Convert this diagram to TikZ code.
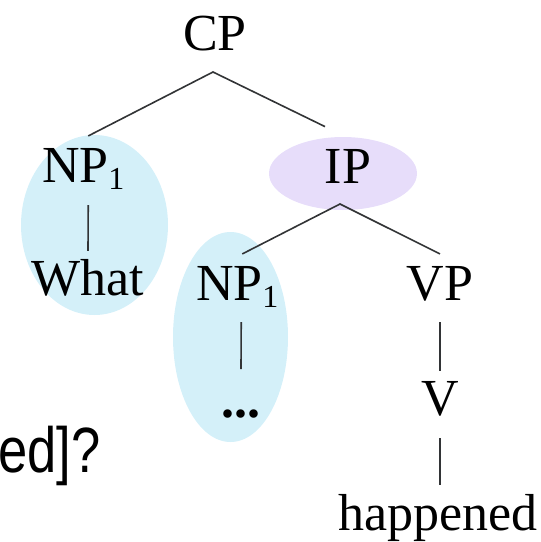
\documentclass[tikz,border=0pt]{standalone}
\usepackage{fontspec}
\setmainfont{Liberation Serif}
\newfontfamily\qsans{Liberation Sans}
\usetikzlibrary{shapes.geometric,calc}
\definecolor{hlblue}{RGB}{212,240,249}
\definecolor{hlpurple}{RGB}{231,221,250}
\definecolor{edgegray}{RGB}{50,52,54}
\newcommand{\subone}{\raisebox{-3.5pt}{\fontsize{16}{16}\selectfont 1}}
\tikzset{
  lbl/.style={inner sep=0pt, outer sep=0pt, font=\fontsize{26}{30}\selectfont},
  blob/.style={ellipse, draw=none, inner sep=0pt},
  edge/.style={draw=edgegray, line width=0.8pt},
}
\begin{document}
\begin{tikzpicture}[x=0.5pt,y=-0.5pt]
\useasboundingbox (0,0) rectangle (541,542);
\clip (0,0) rectangle (541,542);
% highlight ellipses (sizes in pt = half the pixel size)
\node[blob, fill=hlblue, minimum width=73.5pt, minimum height=90pt] (ella) at (94.5,225) {};
\node[blob, fill=hlblue, minimum width=57.5pt, minimum height=105pt] (ellb) at (230.5,337) {};
\node[blob, fill=hlpurple, minimum width=74pt, minimum height=36.5pt] (ellc) at (343,173.5) {};
% labels
\node[lbl, anchor=base] (cp) at (215,50) {CP};
\node[lbl, anchor=base west] (npa) at (42,182) {NP\subone};
\node[lbl, anchor=base] (what) at (88,295) {What};
\node[lbl, anchor=base] (ip) at (348,183) {IP};
\node[lbl, anchor=base west] (npb) at (196,300) {NP\subone};
\node[lbl, anchor=base] (dots) at (241,417) {\bfseries ...};
\node[lbl, anchor=base] (vp) at (440,300) {VP};
\node[lbl, anchor=base] (v) at (440,415) {V};
\node[lbl, anchor=base] (hap) at (438,530) {happened};
% side text
\node[inner sep=0pt, anchor=base east, font=\qsans\fontsize{32}{36}\selectfont] (q) at (101,472) {\scalebox{0.82}[1]{ed]?}};
% edges
\coordinate (cpx) at ($(cp.base)+(-2,22)$);
\draw[edge] ($(npa.north)+(5,-12)$) -- (cpx) -- ($(ellc.north)+(-18,-10)$);
\coordinate (ipx) at ($(ip.base)+(-8,21)$);
\draw[edge] ($(npb.north)+(5,-12)$) -- (ipx) -- ($(vp.north)+(0,-12)$);
\draw[edge] ($(npa.base)+(5,23)$) -- ($(what.north)+(0,-8)$);
\draw[edge] ($(npb.base)+(4,22)$) -- ($(dots.base)+(0,-48)$);
\draw[edge] ($(vp.base)+(0,22)$) -- ($(v.north)+(0,-10)$);
\draw[edge] ($(v.base)+(0,23)$) -- ($(hap.north)+(2,-9)$);
\end{tikzpicture}
\end{document}
